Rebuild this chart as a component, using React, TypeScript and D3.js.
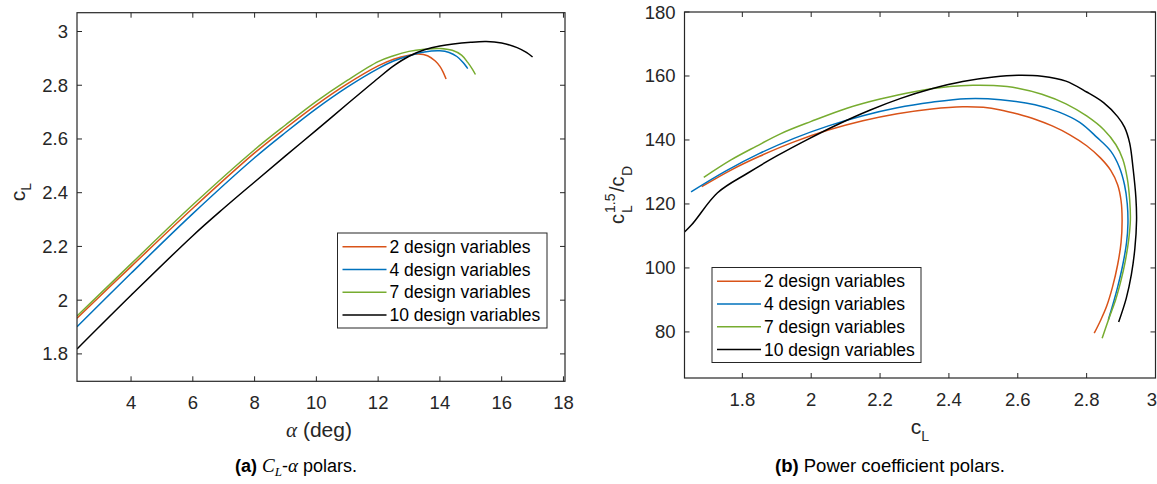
import React from 'react'
import * as d3 from 'd3'

const seriesNames = ['2 design variables', '4 design variables', '7 design variables', '10 design variables']
const seriesColors = ['#D95319', '#0072BD', '#77AC30', '#000000']

// (a) lift coefficient against angle of attack
const alpha2 = [2.25, 4, 6, 8, 9, 10, 11, 12, 12.5, 13, 13.3, 13.6, 13.85, 14.0, 14.1, 14.2]
const cl2 = [1.933, 2.125, 2.342, 2.548, 2.64, 2.727, 2.805, 2.872, 2.897, 2.912, 2.916, 2.91, 2.89, 2.87, 2.85, 2.823]
const alpha4 = [2.25, 4, 6, 8, 9, 10, 11, 12, 12.5, 13, 13.5, 14, 14.3, 14.55, 14.75, 14.9]
const cl4 = [1.901, 2.1, 2.322, 2.53, 2.624, 2.713, 2.793, 2.862, 2.89, 2.91, 2.924, 2.928, 2.922, 2.907, 2.885, 2.862]
const alpha7 = [2.25, 4, 6, 8, 9, 10, 11, 12, 12.5, 13, 13.5, 14, 14.4, 14.7, 14.9, 15.05, 15.15]
const cl7 = [1.941, 2.135, 2.355, 2.56, 2.652, 2.74, 2.818, 2.888, 2.91, 2.926, 2.934, 2.937, 2.93, 2.912, 2.885, 2.86, 2.84]
const alpha10 = [2.25, 4, 6, 7, 8, 9, 10, 11, 12, 12.5, 13, 13.5, 14, 15, 15.5, 16, 16.5, 16.8, 17.0]
const cl10 = [1.818, 2.018, 2.24, 2.342, 2.44, 2.537, 2.633, 2.73, 2.826, 2.872, 2.908, 2.932, 2.946, 2.96, 2.963, 2.957, 2.94, 2.922, 2.905]

// (b) cL^1.5/cD against cL
const clB2 = [1.682, 1.767, 1.85, 1.95, 2.05, 2.15, 2.25, 2.35, 2.44, 2.5, 2.55, 2.6, 2.65, 2.7, 2.75, 2.8, 2.84, 2.87, 2.89, 2.9, 2.903, 2.9, 2.89, 2.875, 2.858, 2.84, 2.822]
const pw2 = [125.4, 130.6, 134.9, 139.4, 143.1, 146.0, 148.2, 149.7, 150.4, 150.2, 149.4, 148.1, 146.5, 144.4, 141.7, 138.2, 134.4, 130.5, 126, 121, 115, 108, 101, 94, 88, 83.5, 79.6]
const clB4 = [1.651, 1.75, 1.85, 1.95, 2.05, 2.15, 2.25, 2.35, 2.45, 2.55, 2.65, 2.72, 2.78, 2.83, 2.87, 2.895, 2.91, 2.918, 2.92, 2.916, 2.905, 2.89, 2.876, 2.863]
const pw4 = [123.8, 130.2, 135.8, 140.5, 144.4, 147.6, 150.1, 151.8, 152.9, 152.6, 151.0, 148.7, 145.5, 140.8, 136.5, 131.5, 126, 120, 114, 108, 101, 94, 88.5, 83.8]
const clB7 = [1.688, 1.767, 1.84, 1.912, 2.0, 2.106, 2.2, 2.299, 2.403, 2.47, 2.53, 2.6, 2.67, 2.74, 2.8, 2.85, 2.885, 2.905, 2.918, 2.925, 2.927, 2.922, 2.912, 2.9, 2.884, 2.865, 2.845]
const pw7 = [128.3, 133.75, 138.0, 142.0, 145.8, 150.0, 152.8, 155.1, 156.7, 157.1, 157.0, 156.2, 154.3, 151.3, 147.5, 143.2, 138.5, 134, 128, 121.3, 115, 108.7, 102, 96.2, 90, 84.3, 78]
const clB10 = [1.61, 1.652, 1.728, 1.815, 1.9, 1.99, 2.08, 2.17, 2.26, 2.35, 2.44, 2.53, 2.6, 2.67, 2.74, 2.8, 2.85, 2.89, 2.91, 2.925, 2.935, 2.943, 2.945, 2.94, 2.93, 2.915, 2.893]
const pw10 = [109, 113.4, 123.5, 129.6, 135.0, 140.2, 145.0, 149.3, 153.0, 156.0, 158.3, 159.7, 160.2, 159.9, 158.4, 155.0, 151.6, 147.3, 144.0, 139, 131, 122, 115, 106, 98, 90.5, 83.1]

const ticksA_x = [4, 6, 8, 10, 12, 14, 16, 18]
const ticksA_y = [1.8, 2, 2.2, 2.4, 2.6, 2.8, 3]
const ticksB_x = [1.8, 2, 2.2, 2.4, 2.6, 2.8, 3]
const ticksB_y = [80, 100, 120, 140, 160, 180]

const AXC = '#262626'
const SANS = '"Liberation Sans", Arial, Helvetica, sans-serif'
const SERIF = '"Liberation Serif", "DejaVu Serif", serif'

function Axes({ id, x, y, xt, yt, series, legend }) {
  const [x0, x1] = x.range()
  const [y1, y0] = y.range()
  const line = d3.line().x(d => x(d[0])).y(d => y(d[1])).curve(d3.curveCatmullRom.alpha(0.5))
  const fmt = d3.format('~g')
  return (
    <g>
      <defs>
        <clipPath id={id}>
          <rect x={x0} y={y0} width={x1 - x0} height={y1 - y0} />
        </clipPath>
      </defs>
      <g clipPath={`url(#${id})`}>
        {series.map((s, i) => (
          <path key={i} d={line(s)} fill="none" stroke={seriesColors[i]} strokeWidth={1.5} />
        ))}
      </g>
      <rect x={x0} y={y0} width={x1 - x0} height={y1 - y0} fill="none" stroke={AXC} strokeWidth={1.2} />
      {xt.map((t, i) => {
        const last = x(t) > 1140
        return (
          <g key={'x' + t}>
            <line x1={x(t)} x2={x(t)} y1={y1} y2={y1 - 5} stroke={AXC} />
            <line x1={x(t)} x2={x(t)} y1={y0} y2={y0 + 5} stroke={AXC} />
            <text x={last ? 1157 : x(t)} y={y1 + 28} textAnchor={last ? 'end' : 'middle'} fontSize={18.5} fill={AXC} fontFamily={SANS}>{fmt(t)}</text>
          </g>
        )
      })}
      {yt.map(t => (
        <g key={'y' + t}>
          <line x1={x0} x2={x0 + 5} y1={y(t)} y2={y(t)} stroke={AXC} />
          <line x1={x1} x2={x1 - 5} y1={y(t)} y2={y(t)} stroke={AXC} />
          <text x={x0 - 9} y={y(t) + 6.5} textAnchor="end" fontSize={18.5} fill={AXC} fontFamily={SANS}>{fmt(t)}</text>
        </g>
      ))}
      <g>
        <rect x={legend.x} y={legend.y} width={legend.w} height={legend.h} fill="#fff" stroke={AXC} strokeWidth={1} />
        {seriesNames.map((n, i) => {
          const ly = legend.y + 13.7 + i * 22.8
          return (
            <g key={n}>
              <line x1={legend.x + 5} x2={legend.x + 49} y1={ly} y2={ly} stroke={seriesColors[i]} strokeWidth={1.5} />
              <text x={legend.x + 52} y={ly + 6} fontSize={17.5} fill="#000" fontFamily={SANS}>{n}</text>
            </g>
          )
        })}
      </g>
    </g>
  )
}

const zip = (a, b) => a.map((v, i) => [v, b[i]])

export default function App() {
  const xA = d3.scaleLinear().domain([2.25, 18.05]).range([77, 565])
  const yA = d3.scaleLinear().domain([1.698, 3.07]).range([381.3, 12.7])
  const xB = d3.scaleLinear().domain([1.632, 3.0]).range([684.5, 1155.5])
  const yB = d3.scaleLinear().domain([65.6, 180]).range([378, 12])

  const seriesA = [zip(alpha2, cl2), zip(alpha4, cl4), zip(alpha7, cl7), zip(alpha10, cl10)]
  const seriesB = [zip(clB2, pw2), zip(clB4, pw4), zip(clB7, pw7), zip(clB10, pw10)]

  return (
    <div>
      <style>{`body{margin:0;background:#fff}`}</style>
      <svg width={1157} height={484} style={{ display: 'block' }}>
        <rect width={1157} height={484} fill="#fff" />
        <Axes id="clipA" x={xA} y={yA} xt={ticksA_x} yt={ticksA_y} series={seriesA}
          legend={{ x: 337.5, y: 233, w: 209.5, h: 95 }} />
        <Axes id="clipB" x={xB} y={yB} xt={ticksB_x} yt={ticksB_y} series={seriesB}
          legend={{ x: 712, y: 267.5, w: 209, h: 95 }} />

        {/* labels, panel a */}
        <text transform="translate(25,192) rotate(-90)" textAnchor="middle" fontSize={21} fill={AXC} fontFamily={SANS}>
          c<tspan fontSize={14} dy={6}>L</tspan>
        </text>
        <text x={319} y={437} textAnchor="middle" fontSize={21} fill={AXC} fontFamily={SANS}>
          <tspan fontFamily={SERIF} fontStyle="italic">α</tspan> (deg)
        </text>
        <text x={296} y={472} textAnchor="middle" fontSize={18} fill="#000" fontFamily={SANS}>
          <tspan fontWeight="bold">(a)</tspan> <tspan fontFamily={SERIF} fontStyle="italic" fontSize={19}>C</tspan>
          <tspan fontFamily={SERIF} fontStyle="italic" fontSize={13} dy={4}>L</tspan>
          <tspan dy={-4}>-</tspan><tspan fontFamily={SERIF} fontStyle="italic" fontSize={19}>α</tspan> polars.
        </text>

        {/* labels, panel b */}
        <g transform="translate(624,192) rotate(-90)" fontFamily={SANS} fill={AXC}>
          <text x={-32} y={0} fontSize={20}>c</text>
          <text x={-21} y={-9} fontSize={14}>1.5</text>
          <text x={-21} y={8} fontSize={14}>L</text>
          <text x={0} y={0} fontSize={20}>/c</text>
          <text x={16} y={8} fontSize={14}>D</text>
        </g>
        <text x={920} y={434} textAnchor="middle" fontSize={21} fill={AXC} fontFamily={SANS}>
          c<tspan fontSize={14} dy={7}>L</tspan>
        </text>
        <text x={890} y={472} textAnchor="middle" fontSize={18.5} fill="#000" fontFamily={SANS}>
          <tspan fontWeight="bold">(b)</tspan> Power coefficient polars.
        </text>
      </svg>
    </div>
  )
}
